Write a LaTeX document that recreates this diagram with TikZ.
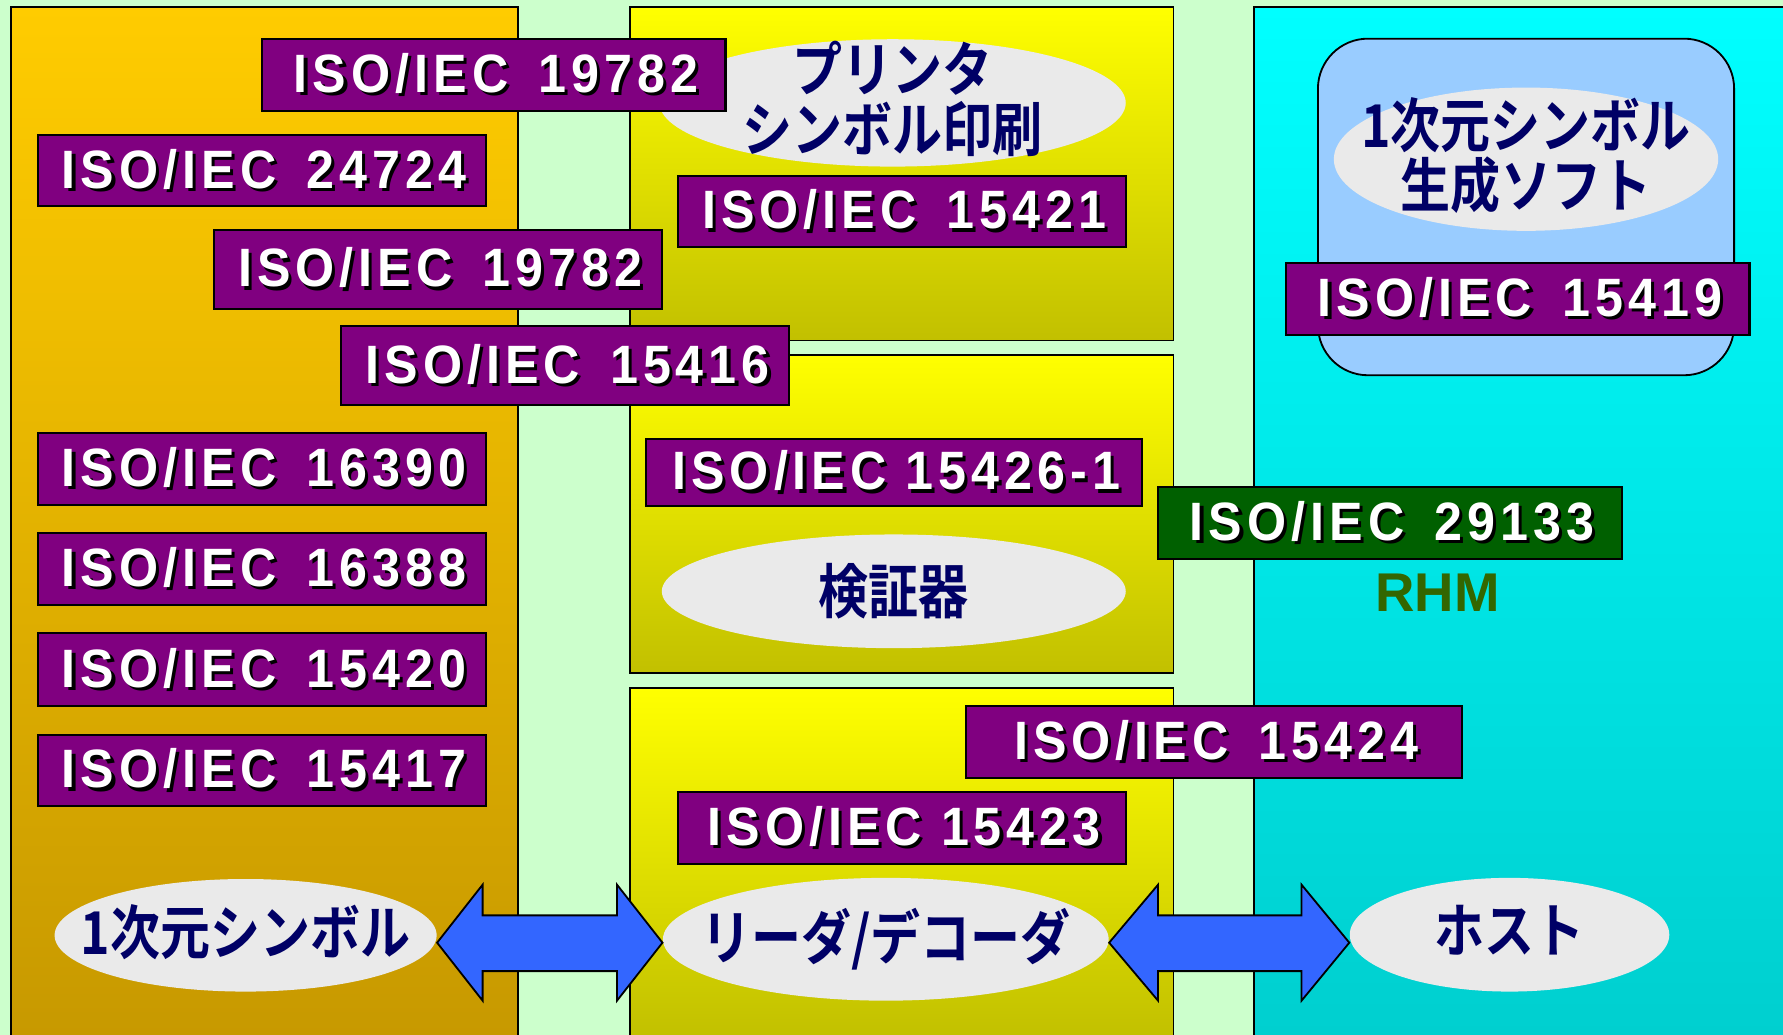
\documentclass[tikz,border=0pt]{standalone}
\usepackage{fontspec}
\usepackage{graphicx}
\setmainfont{Liberation Sans}
\newfontfamily\isofont{Liberation Sans}[LetterSpace=10]
\newfontfamily\jpfont{Noto Sans CJK JP Bold}
\usetikzlibrary{shapes.geometric,calc}
\definecolor{bggreen}{RGB}{204,255,204}
\definecolor{isopurple}{RGB}{128,0,128}
\definecolor{isogreen}{RGB}{0,96,0}
\definecolor{ovalgray}{RGB}{234,234,234}
\definecolor{navytext}{RGB}{0,0,102}
\definecolor{rhmgreen}{RGB}{51,102,0}
\definecolor{arrowblue}{RGB}{51,102,255}
\definecolor{softblue}{RGB}{153,204,255}
\definecolor{goldtop}{RGB}{255,204,0}
\definecolor{goldbot}{RGB}{198,152,0}
\definecolor{yeltop}{RGB}{255,255,0}
\definecolor{yelbot}{RGB}{194,192,0}
\definecolor{cyantop}{RGB}{0,255,255}
\definecolor{cyanbot}{RGB}{0,206,206}
\newcommand{\shtext}[1]{\scalebox{0.93}[1]{\makebox[0pt][l]{\hspace{1.5pt}\raisebox{-1.4pt}{\color{black}#1}}#1\hspace{-0.1em}}}
\newcommand{\jpl}[1]{\scalebox{1}[1.18]{\begin{tabular}{@{}c@{}}#1\end{tabular}}}
\begin{document}
\begin{tikzpicture}[x=0.5pt,y=-0.5pt,
  panel/.style={draw=black, line width=0.8pt},
  isobox/.style={draw=black, line width=0.9pt, fill=isopurple, text=white, inner sep=0pt,
    minimum height=31.5pt, minimum width=197pt,
    font=\isofont\bfseries\fontsize{23.75}{26}\selectfont},
  oval/.style={ellipse, fill=ovalgray, draw=none, inner sep=0pt},
  jptext/.style={text=navytext, inner sep=0pt, font=\jpfont\fontsize{22}{19}\selectfont},
  blockarrow/.style={draw=black, line width=0.8pt, fill=arrowblue, line join=miter}
]
\useasboundingbox (0,0) rectangle (1568,910);
\clip (0,0) rectangle (1568,910);
\fill[bggreen] (0,0) rectangle (1568,910);

% panels
\draw[panel, top color=goldtop, bottom color=goldbot] (10,6) rectangle (455.5,930);
\draw[panel, top color=yeltop, bottom color=yelbot] (554,6) rectangle (1032,299.5);
\draw[panel, top color=yeltop, bottom color=yelbot] (554,312) rectangle (1032,592);
\draw[panel, top color=yeltop, bottom color=yelbot!95!black] (554,605) rectangle (1032,960);
\draw[panel, top color=cyantop, bottom color=cyanbot] (1103,6) rectangle (1590,930);
\draw[panel, fill=softblue, rounded corners=22pt] (1159,34) rectangle (1525,330);

% ovals
\node[oval, minimum width=205pt, minimum height=56pt] (prn) at (785,90.5) {};
\node[jptext] (prnt) at ($(prn.center)+(0,1)$) {\jpl{プリンタ\\[-2pt]シンボル印刷}};
\node[oval, minimum width=169pt, minimum height=63pt] (soft) at (1342,140) {};
\node[jptext] (softt) at ($(soft.center)+(0,1)$) {\jpl{1次元シンボル\\[-2pt]生成ソフト}};
\node[oval, minimum width=204pt, minimum height=50pt] (ver) at (786,520) {};
\node[jptext] (vert) at ($(ver.center)+(0,4)$) {\jpl{検証器}};
\node[oval, minimum width=168pt, minimum height=49.5pt] (sym) at (216,822.5) {};
\node[jptext] (symt) at ($(sym.center)+(0,2)$) {\jpl{1次元シンボル}};
\node[oval, minimum width=196pt, minimum height=54pt] (rd) at (779,826) {};
\node[jptext] (rdt) at ($(rd.center)+(0,2)$) {\jpl{リーダ/デコーダ}};
\node[oval, minimum width=140.5pt, minimum height=50pt] (host) at (1327.5,822) {};
\node[jptext] (hostt) at ($(host.center)+(0,2)$) {\jpl{ホスト}};

% block arrows
\coordinate (a1l) at ($(sym.east)+(0,6.5)$);
\coordinate (a1r) at ($(rd.west)+(0,3)$);
\coordinate (a2l) at ($(rd.east)+(0,3)$);
\coordinate (a2r) at ($(host.west)+(0,7)$);
\draw[blockarrow] (a1l) -- ++(40,-51) -- ++(0,27) -- ($(a1r)+(-40,-24)$) -- ++(0,-27)
  -- (a1r) -- ++(-40,51) -- ++(0,-26) -- ($(a1l)+(40,25)$) -- ++(0,26) -- cycle;
\draw[blockarrow] (a2l) -- ++(43,-51) -- ++(0,27) -- ($(a2r)+(-42,-24)$) -- ++(0,-27)
  -- (a2r) -- ++(-42,51) -- ++(0,-26) -- ($(a2l)+(43,25)$) -- ++(0,26) -- cycle;

% ISO boxes
\node[isobox, minimum width=204pt] (b1) at (434,66) {\shtext{ISO/IEC\hspace{0.6em}19782}};
\node[isobox] (b2) at (230,150) {\shtext{ISO/IEC\hspace{0.6em}24724}};
\node[isobox, minimum height=34.5pt] (b3) at (385,237) {\shtext{ISO/IEC\hspace{0.6em}19782}};
\node[isobox, minimum height=34.5pt] (b4) at (497,321.5) {\shtext{ISO/IEC\hspace{0.6em}15416}};
\node[isobox] (b5) at (230,412.5) {\shtext{ISO/IEC\hspace{0.6em}16390}};
\node[isobox] (b6) at (230,500.5) {\shtext{ISO/IEC\hspace{0.6em}16388}};
\node[isobox, minimum height=32pt] (b7) at (230,589) {\shtext{ISO/IEC\hspace{0.6em}15420}};
\node[isobox] (b8) at (230,677.5) {\shtext{ISO/IEC\hspace{0.6em}15417}};
\node[isobox] (b9) at (793,186) {\shtext{ISO/IEC\hspace{0.6em}15421}};
\node[isobox, minimum width=218pt, minimum height=29.5pt] (b10) at (786,415.5) {\shtext{ISO/IEC 15426-1}};
\node[isobox, fill=isogreen, minimum width=204pt, minimum height=32pt] (b11) at (1222,460) {\shtext{ISO/IEC\hspace{0.6em}29133}};
\node[isobox, minimum width=218pt] (b12) at (1067.5,652.5) {\shtext{ISO/IEC\hspace{0.6em}15424}};
\node[isobox] (b13) at (793,728) {\shtext{ISO/IEC 15423}};
\node[isobox, minimum width=204pt] (b14) at (1334.5,263) {\shtext{ISO/IEC\hspace{0.6em}15419}};

\node[font=\bfseries\fontsize{24}{26}\selectfont, text=rhmgreen, inner sep=0pt] (rhm) at (1264,521) {RHM};
\end{tikzpicture}
\end{document}
